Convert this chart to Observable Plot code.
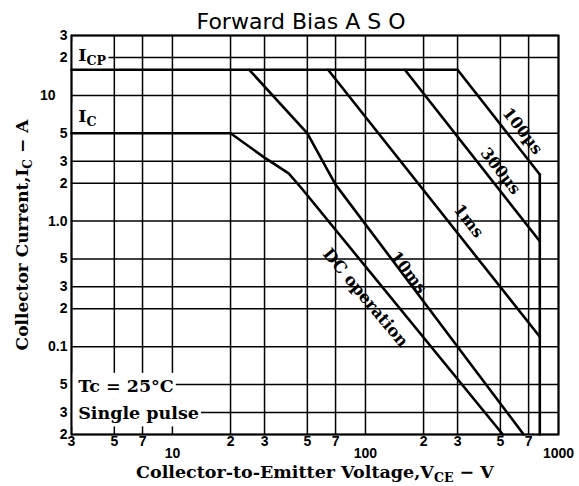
<!DOCTYPE html>
<html><head><meta charset="utf-8">
<script src="https://cdn.jsdelivr.net/npm/d3@7"></script>
<script src="https://cdn.jsdelivr.net/npm/@observablehq/plot@0.6"></script>
<style>
html,body{margin:0;padding:0;background:#fff;}
</style></head><body><div id="chart"></div>
<script>
const title = "Forward Bias A S O";
const xLabel = "Collector-to-Emitter Voltage,V_CE − V";
const yLabel = "Collector Current,I_C − A";

const xGrid = [3,5,7,10,20,30,50,70,100,200,300,500,700,1000];
const xTicks = [3,5,7,20,30,50,70,200,300,500,700];
const xTickLabels = ["3","5","7","2","3","5","7","2","3","5","7"];
const xDecadeTicks = [10,100,1000];
const xDecadeLabels = ["10","100","1000"];

const yGrid = [0.02,0.03,0.05,0.1,0.2,0.3,0.5,1,2,3,5,10,20,30];
const yTicks = [0.02,0.03,0.05,0.1,0.2,0.3,0.5,1,2,3,5,20,30];
const yTickLabels = ["2","3","5","0.1","2","3","5","1.0","2","3","5","2","3"];
const yTenTicks = [10];
const yTenLabels = ["10"];

// curves (V, A)
const icpV = [3,300],            icpI = [16,16];
const icV = [3,20],              icI = [5,5];
const dcV = [20,30,40,47,515],   dcI = [5,3.2,2.4,1.8,0.02];
const ms10V = [25,50,70,660],    ms10I = [16,5,1.95,0.02];
const ms1V = [64,800],           ms1I = [16,0.12];
const us300V = [160,800],        us300I = [16,0.69];
const us100V = [300,800],        us100I = [16,2.35];
const vmaxV = [800,800],         vmaxI = [2.35,0.02];

const curveLabels = ["100µs","300µs","1ms","10ms"];
const curveLabelV = [651,500,342,167];
const curveLabelI = [5.2,2.5,1.0,0.39];
const dcLabel = ["DC operation"];
const dcLabelV = [100];
const dcLabelI = [0.245];

const boxLabels = ["I_CP","I_C","Tc = 25°C","Single pulse"];
const boxLabelV = [3.25,3.25,3.25,3.25];
const boxLabelI = [21,6.8,0.048,0.0295];

const curves = [
  ["ICP", icpV, icpI], ["IC", icV, icI], ["DC", dcV, dcI], ["10ms", ms10V, ms10I],
  ["1ms", ms1V, ms1I], ["300us", us300V, us300I], ["100us", us100V, us100I], ["Vmax", vmaxV, vmaxI]
];
const curveRows = curves.flatMap(([name, V, I]) => V.map((v, k) => ({name, v, i: I[k]})));

const xTickMap = new Map(xTicks.map((d,k)=>[d, xTickLabels[k]]));
const xDecMap = new Map(xDecadeTicks.map((d,k)=>[d, xDecadeLabels[k]]));
const yTickMap = new Map(yTicks.map((d,k)=>[d, yTickLabels[k]]));
const yTenMap = new Map(yTenTicks.map((d,k)=>[d, yTenLabels[k]]));

const serif = "DejaVu Serif";
const tickFont = {fontFamily: "Liberation Sans", fontWeight: "bold", fontSize: 14, fill: "black"};

const chart = Plot.plot({
  width: 579, height: 486,
  marginLeft: 71, marginRight: 21, marginTop: 35, marginBottom: 52,
  x: {type: "log", domain: [3,1000], axis: null},
  y: {type: "log", domain: [0.02,30], axis: null},
  style: {background: "white", color: "black"},
  marks: [
    Plot.ruleX(xGrid, {x: d => d, stroke: "black", strokeWidth: 1.5}),
    Plot.ruleY(yGrid, {y: d => d, stroke: "black", strokeWidth: 1.5}),
    Plot.line(curveRows, {x: "v", y: "i", z: "name", stroke: "black", strokeWidth: 2.6, strokeLinejoin: "miter"}),
    Plot.text(boxLabels, {x: (d,k) => boxLabelV[k], y: (d,k) => boxLabelI[k], text: d => d,
      textAnchor: "start", lineAnchor: "middle", fontFamily: serif, fontWeight: 600, fontSize: 17.5, fill: "black"}),
    Plot.text(curveLabels, {x: (d,k) => curveLabelV[k], y: (d,k) => curveLabelI[k], text: d => d,
      rotate: 52, textAnchor: "middle", lineAnchor: "middle", fontFamily: serif, fontWeight: 600, fontSize: 16, fill: "black"}),
    Plot.text(dcLabel, {x: (d,k) => dcLabelV[k], y: (d,k) => dcLabelI[k], text: d => d,
      rotate: 50, textAnchor: "middle", lineAnchor: "middle", fontFamily: serif, fontWeight: 600, fontSize: 16.5, fill: "black"}),
    Plot.text(xTicks, {x: d => d, text: d => xTickMap.get(d), frameAnchor: "bottom", textAnchor: "middle", lineAnchor: "top", dy: 2, ...tickFont}),
    Plot.text(xDecadeTicks, {x: d => d, text: d => xDecMap.get(d), frameAnchor: "bottom", textAnchor: "middle", lineAnchor: "top", dy: 14, ...tickFont}),
    Plot.text(yTicks, {y: d => d, text: d => yTickMap.get(d), frameAnchor: "left", textAnchor: "end", lineAnchor: "middle", dx: -4, ...tickFont}),
    Plot.text(yTenTicks, {y: d => d, text: d => yTenMap.get(d), frameAnchor: "left", textAnchor: "end", lineAnchor: "middle", dx: -16, ...tickFont}),
    Plot.text([title], {text: d => d, frameAnchor: "top", textAnchor: "middle", lineAnchor: "middle", dy: -14, dx: -14,
      fontFamily: "DejaVu Sans", fontSize: 22, fill: "black"}),
    Plot.text([xLabel], {text: d => d, frameAnchor: "bottom", textAnchor: "middle", lineAnchor: "middle", dy: 38,
      fontFamily: serif, fontWeight: 600, fontSize: 17.5, fill: "black"}),
    Plot.text([yLabel], {text: d => d, frameAnchor: "left", rotate: -90, textAnchor: "middle", lineAnchor: "middle", dx: -49,
      fontFamily: serif, fontWeight: 600, fontSize: 17, fill: "black"}),
    Plot.frame({stroke: "black", strokeWidth: 2})
  ]
});

document.getElementById("chart").append(chart);

const boxSet = new Set(boxLabels);
const svg = d3.select(chart);
svg.selectAll("text").each(function() {
  if (boxSet.has(this.textContent)) this.classList.add("boxed");
});
// subscripts
svg.selectAll("text").each(function() {
  const t = this.textContent;
  if (!t.includes("_")) return;
  const parts = t.split(/(_[A-Za-z]+)/);
  const sel = d3.select(this);
  sel.text(null);
  let shifted = false;
  for (const p of parts) {
    if (!p) continue;
    if (p.startsWith("_")) {
      sel.append("tspan").attr("dy", 4).attr("font-size", "0.72em").text(p.slice(1));
      shifted = true;
    } else {
      const ts = sel.append("tspan").text(p);
      if (shifted) { ts.attr("dy", -4); shifted = false; }
    }
  }
});
// white boxes behind in-plot labels, placed under the curves but above the grid
const lineGroup = chart.querySelector("g[aria-label='line']");
const boxLayer = document.createElementNS("http://www.w3.org/2000/svg", "g");
if (lineGroup) lineGroup.parentNode.insertBefore(boxLayer, lineGroup);
else chart.appendChild(boxLayer);
svg.selectAll("text.boxed").each(function() {
  const b = this.getBBox();
  const wrap = document.createElementNS("http://www.w3.org/2000/svg", "g");
  const ptr = this.parentNode.getAttribute("transform");
  if (ptr) wrap.setAttribute("transform", ptr);
  const r = document.createElementNS("http://www.w3.org/2000/svg", "rect");
  r.setAttribute("x", b.x - 7);
  r.setAttribute("y", b.y - 3.5);
  r.setAttribute("width", b.width + 9);
  r.setAttribute("height", b.height + 7);
  r.setAttribute("fill", "white");
  r.setAttribute("stroke", "none");
  const tr = this.getAttribute("transform");
  if (tr) r.setAttribute("transform", tr);
  wrap.appendChild(r);
  boxLayer.appendChild(wrap);
});
</script></body></html>
